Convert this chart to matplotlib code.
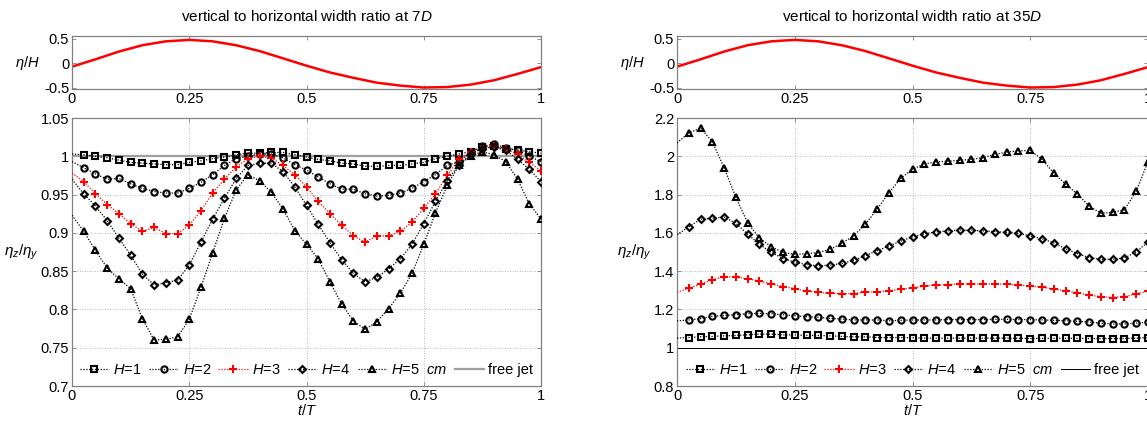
import matplotlib
matplotlib.use("Agg")
import matplotlib.pyplot as plt
import numpy as np

plt.rcParams['font.family'] = ['Liberation Sans', 'DejaVu Sans']
plt.rcParams['mathtext.fontset'] = 'custom'
plt.rcParams['mathtext.rm'] = 'Liberation Sans'
plt.rcParams['mathtext.it'] = 'Liberation Sans:italic'
plt.rcParams['mathtext.bf'] = 'Liberation Sans:bold'

# ---------------- data ----------------
t_wave = [0.0, 0.05, 0.1, 0.15, 0.2, 0.25, 0.3, 0.35, 0.4, 0.45, 0.5,
          0.55, 0.6, 0.65, 0.7, 0.75, 0.8, 0.85, 0.9, 0.95, 1.0]
eta_wave = [-0.07, 0.08, 0.24, 0.37, 0.45, 0.48, 0.45, 0.37, 0.25, 0.10, -0.05,
            -0.19, -0.30, -0.40, -0.46, -0.50, -0.49, -0.44, -0.35, -0.22, -0.08]

t_pts = [0.0, 0.025, 0.05, 0.075, 0.1, 0.125, 0.15, 0.175, 0.2, 0.225,
         0.25, 0.275, 0.3, 0.325, 0.35, 0.375, 0.4, 0.425, 0.45, 0.475,
         0.5, 0.525, 0.55, 0.575, 0.6, 0.625, 0.65, 0.675, 0.7, 0.725,
         0.75, 0.775, 0.8, 0.825, 0.85, 0.875, 0.9, 0.925, 0.95, 0.975, 1.0]

# 7D
h1_7 = [1.003, 1.002, 1.000, 0.998, 0.995, 0.992, 0.991, 0.990, 0.989, 0.989,
        0.992, 0.994, 0.997, 0.999, 1.002, 1.004, 1.004, 1.005, 1.005, 1.002,
        0.999, 0.996, 0.994, 0.991, 0.990, 0.987, 0.987, 0.988, 0.988, 0.990,
        0.992, 0.997, 1.000, 1.003, 1.006, 1.012, 1.013, 1.010, 1.008, 1.006, 1.004]
h2_7 = [0.993, 0.985, 0.977, 0.970, 0.971, 0.964, 0.958, 0.954, 0.952, 0.952,
        0.958, 0.966, 0.976, 0.988, 0.997, 1.000, 1.003, 1.003, 0.998, 0.989,
        0.982, 0.973, 0.964, 0.957, 0.957, 0.951, 0.948, 0.949, 0.952, 0.958,
        0.967, 0.976, 0.988, 0.993, 1.006, 1.013, 1.016, 1.011, 1.008, 1.000, 0.993]
h3_7 = [0.978, 0.967, 0.951, 0.937, 0.925, 0.912, 0.902, 0.907, 0.899, 0.899,
        0.910, 0.929, 0.952, 0.970, 0.986, 0.997, 1.000, 0.998, 0.988, 0.976,
        0.960, 0.941, 0.925, 0.910, 0.896, 0.888, 0.896, 0.896, 0.902, 0.914,
        0.932, 0.951, 0.975, 0.996, 1.005, 1.010, 1.013, 1.009, 1.003, 0.992, 0.981]
h4_7 = [0.970, 0.951, 0.935, 0.916, 0.893, 0.871, 0.846, 0.832, 0.835, 0.838,
        0.858, 0.888, 0.918, 0.945, 0.971, 0.988, 0.991, 0.991, 0.980, 0.960,
        0.936, 0.911, 0.887, 0.865, 0.847, 0.836, 0.842, 0.853, 0.866, 0.885,
        0.912, 0.941, 0.968, 0.989, 1.003, 1.010, 1.012, 1.008, 0.996, 0.983, 0.967]
h5_7 = [0.923, 0.902, 0.877, 0.854, 0.840, 0.827, 0.788, 0.760, 0.761, 0.764,
        0.787, 0.829, 0.874, 0.919, 0.956, 0.976, 0.968, 0.953, 0.931, 0.903,
        0.885, 0.866, 0.836, 0.807, 0.785, 0.774, 0.784, 0.801, 0.821, 0.847,
        0.885, 0.926, 0.962, 0.988, 1.001, 1.006, 1.002, 0.993, 0.970, 0.938, 0.918]

# 35D
h1_35 = [1.050, 1.053, 1.057, 1.059, 1.062, 1.064, 1.067, 1.071, 1.071, 1.067,
         1.067, 1.064, 1.064, 1.062, 1.059, 1.057, 1.057, 1.053, 1.053, 1.053,
         1.052, 1.050, 1.050, 1.050, 1.050, 1.050, 1.050, 1.050, 1.050, 1.049,
         1.048, 1.049, 1.049, 1.049, 1.049, 1.048, 1.048, 1.048, 1.048, 1.050, 1.053]
h2_35 = [1.140, 1.145, 1.152, 1.164, 1.169, 1.172, 1.178, 1.179, 1.178, 1.172,
         1.167, 1.162, 1.159, 1.153, 1.150, 1.145, 1.145, 1.145, 1.141, 1.143,
         1.145, 1.145, 1.145, 1.147, 1.147, 1.147, 1.147, 1.148, 1.148, 1.147,
         1.147, 1.145, 1.143, 1.141, 1.138, 1.134, 1.128, 1.124, 1.124, 1.128, 1.134]
h3_35 = [1.290, 1.310, 1.333, 1.355, 1.371, 1.369, 1.360, 1.348, 1.333, 1.319,
         1.309, 1.295, 1.290, 1.284, 1.283, 1.283, 1.290, 1.291, 1.298, 1.305,
         1.314, 1.321, 1.328, 1.329, 1.333, 1.333, 1.334, 1.333, 1.331, 1.328,
         1.322, 1.316, 1.307, 1.297, 1.288, 1.274, 1.267, 1.262, 1.267, 1.281, 1.295]
h4_35 = [1.590, 1.631, 1.671, 1.676, 1.683, 1.650, 1.593, 1.540, 1.498, 1.466,
         1.447, 1.434, 1.428, 1.431, 1.440, 1.457, 1.481, 1.507, 1.531, 1.557,
         1.579, 1.595, 1.605, 1.610, 1.614, 1.614, 1.610, 1.607, 1.602, 1.597,
         1.584, 1.569, 1.548, 1.517, 1.491, 1.471, 1.462, 1.462, 1.469, 1.500, 1.553]
h5_35 = [2.070, 2.122, 2.148, 2.076, 1.940, 1.786, 1.652, 1.572, 1.528, 1.498,
         1.488, 1.491, 1.497, 1.514, 1.545, 1.585, 1.645, 1.724, 1.810, 1.884,
         1.933, 1.959, 1.971, 1.974, 1.979, 1.984, 1.993, 2.010, 2.022, 2.028,
         2.031, 1.984, 1.912, 1.855, 1.803, 1.740, 1.703, 1.707, 1.721, 1.817, 1.972]

free_jet = 1.0

x_ticks = [0, 0.25, 0.5, 0.75, 1]
x_ticklabels = ['0', '0.25', '0.5', '0.75', '1']
wave_yticks = [-0.5, 0, 0.5]
wave_yticklabels = ['-0.5', '0', '0.5']
y7_ticks = [0.7, 0.75, 0.8, 0.85, 0.9, 0.95, 1.0, 1.05]
y7_ticklabels = ['0.7', '0.75', '0.8', '0.85', '0.9', '0.95', '1', '1.05']
y35_ticks = [0.8, 1.0, 1.2, 1.4, 1.6, 1.8, 2.0, 2.2]
y35_ticklabels = ['0.8', '1', '1.2', '1.4', '1.6', '1.8', '2', '2.2']

titles = ['vertical to horizontal width ratio at 7$D$',
          'vertical to horizontal width ratio at 35$D$']
labels = ['$H$=1', '$H$=2', '$H$=3', '$H$=4', '$H$=5  $cm$', 'free jet']

# ---------------- figure ----------------
W, H = 1147, 426
fig = plt.figure(figsize=(W / 100, H / 100), dpi=100)
FS = 10.5
spine_col = '#808080'


def style_axes(ax):
    for s in ax.spines.values():
        s.set_color(spine_col)
        s.set_linewidth(0.9)
    ax.tick_params(direction='in', length=3, width=0.6, color=spine_col,
                   top=True, right=True, labelsize=FS, labelcolor='black', pad=2)


def panel(x0, x1, series, yticks, yticklabels, ylim, title, jet_color, jet_lw):
    left = x0 / W
    width = (x1 - x0) / W
    axt = fig.add_axes([left, 1 - 89 / H, width, 53 / H])
    axb = fig.add_axes([left, 1 - 386 / H, width, 268 / H])
    # wave
    axt.plot(t_wave, eta_wave, color='red', lw=1.8, solid_capstyle='round')
    axt.set_xlim(0, 1)
    axt.set_ylim(-0.53, 0.56)
    axt.set_xticks(x_ticks)
    axt.set_xticklabels(x_ticklabels)
    axt.set_yticks(wave_yticks)
    axt.set_yticklabels(wave_yticklabels)
    style_axes(axt)
    axt.set_title(title, fontsize=11, pad=11)
    axt.set_ylabel(r'$\eta/H$', rotation=0, fontsize=FS, labelpad=12, va='center')

    # ratios
    markers = ['s', 'o', '+', 'D', '^']
    sizes = [4.0, 4.5, 5.5, 3.5, 5.0]
    handles = []
    for i, (vals, m) in enumerate(zip(series, markers)):
        col = 'red' if m == '+' else 'black'
        (ln,) = axb.plot(t_pts, vals, linestyle=(0, (1, 1.3)), lw=0.9, color=col,
                         marker=m, markersize=sizes[i], markevery=slice(1, None),
                         markerfacecolor='none' if m != '+' else col,
                         markeredgecolor=col, markeredgewidth=1.5,
                         zorder=3)
        handles.append(ln)
    jl = axb.axhline(free_jet, color=jet_color, lw=jet_lw, zorder=2)
    handles.append(jl)
    axb.set_xlim(0, 1)
    axb.set_ylim(ylim)
    axb.set_xticks(x_ticks)
    axb.set_xticklabels(x_ticklabels)
    axb.set_yticks(yticks)
    axb.set_yticklabels(yticklabels)
    axb.grid(True, linestyle=(0, (1, 2)), color='#a0a0a0', lw=0.6)
    axb.set_axisbelow(True)
    style_axes(axb)
    axb.set_xlabel('$t/T$', fontsize=FS, labelpad=0)
    axb.set_ylabel(r'$\eta_z/\eta_y$', rotation=0, fontsize=FS + 0.5, labelpad=14, va='center')
    axb.legend(handles, labels, loc='lower center', ncol=6, frameon=False,
               fontsize=10.5, handlelength=2.0, handletextpad=0.3,
               columnspacing=0.5, borderaxespad=0.2, bbox_to_anchor=(0.5, 0.0))
    return axt, axb


panel(72, 541, [h1_7, h2_7, h3_7, h4_7, h5_7], y7_ticks, y7_ticklabels,
      (0.7, 1.05), titles[0], '#a0a0a0', 1.6)
panel(677, 1148, [h1_35, h2_35, h3_35, h4_35, h5_35], y35_ticks, y35_ticklabels,
      (0.8, 2.2), titles[1], 'black', 0.7)

fig.savefig('out.png', dpi=100)
